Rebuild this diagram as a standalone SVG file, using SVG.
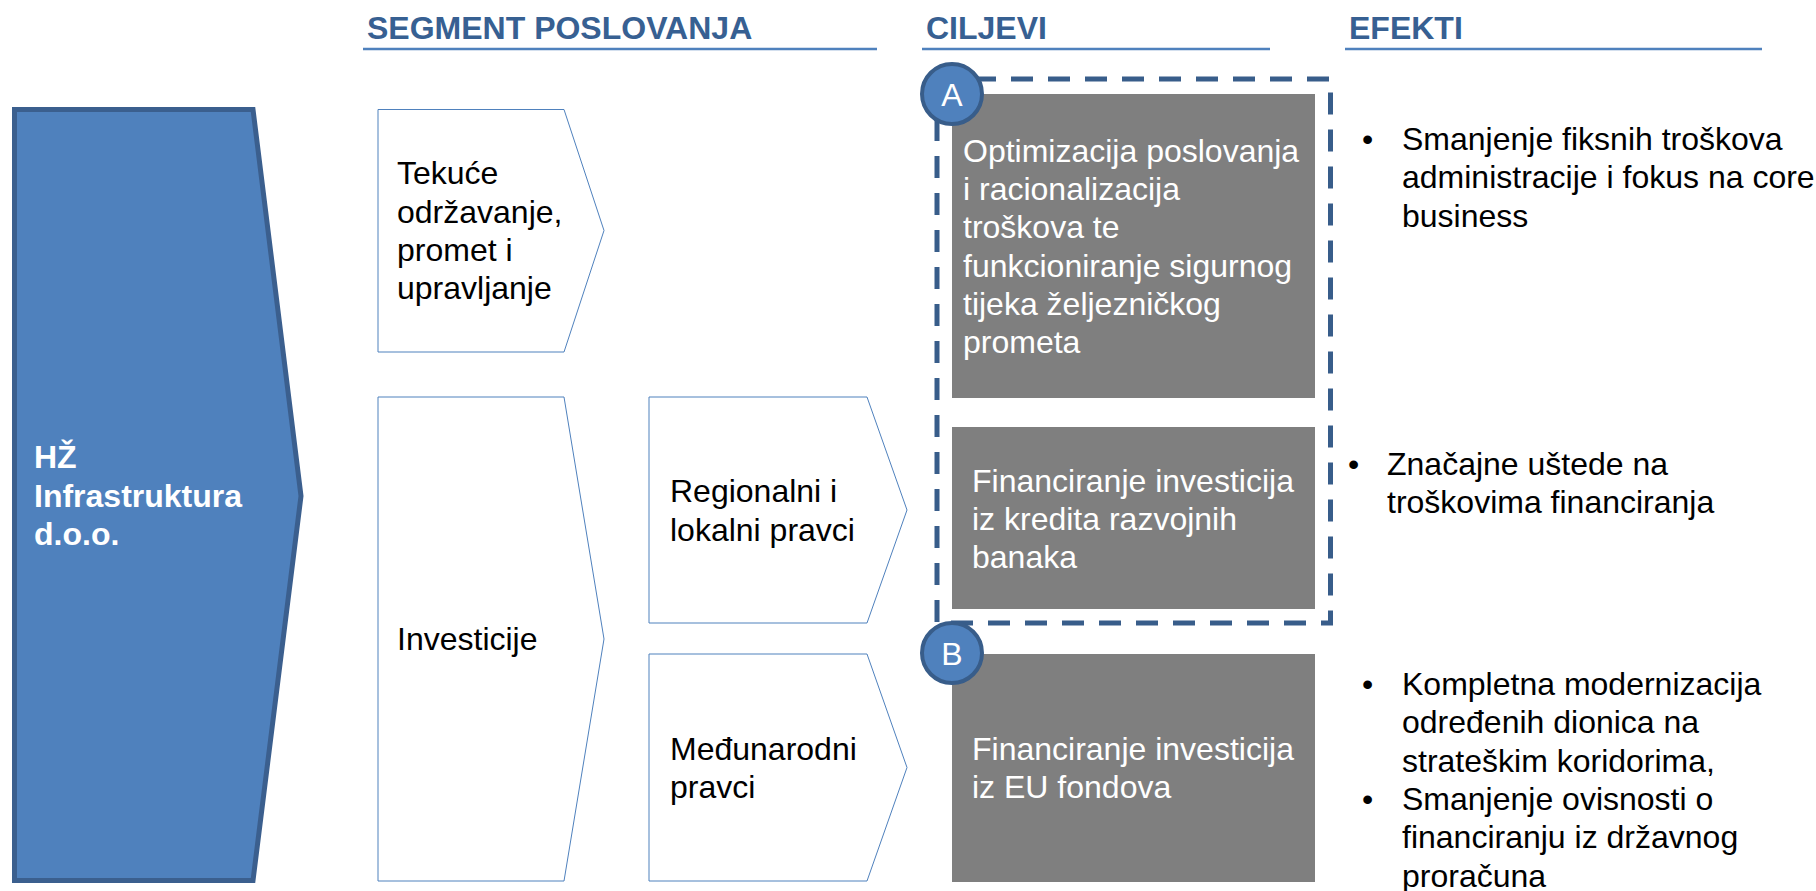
<svg xmlns="http://www.w3.org/2000/svg" width="1816" height="891" viewBox="0 0 1816 891">
<style>
text{font-family:"Liberation Sans",Arial,sans-serif;font-size:32px}
.hdr{font-weight:bold;fill:#376092}
.hl{stroke:#4f81bd;stroke-width:2.5;fill:none}
.seg{fill:#fff;stroke:#4f81bd;stroke-width:1}
.blk{fill:#000}
.gbox{fill:#7f7f7f}
.wt{fill:#fff}
.badge{fill:#4f81bd;stroke:#385d8a;stroke-width:4}
</style>
<rect width="1816" height="891" fill="#fff"/>
<g id="headers">
<text class="hdr" x="367" y="39">SEGMENT POSLOVANJA</text>
<line class="hl" x1="363" y1="49" x2="877" y2="49"/>
<text class="hdr" x="926" y="39">CILJEVI</text>
<line class="hl" x1="922" y1="49" x2="1270" y2="49"/>
<text class="hdr" x="1349" y="39">EFEKTI</text>
<line class="hl" x1="1345" y1="49" x2="1762" y2="49"/>
</g>
<g id="hz">
<polygon points="14.5,109.5 253,109.5 301,496 253,880.5 14.5,880.5" fill="#4f81bd" stroke="#3b5f8e" stroke-width="5"/>
<text class="wt" font-weight="bold" x="34"><tspan x="34" y="468">HŽ</tspan><tspan x="34" y="507">Infrastruktura</tspan><tspan x="34" y="545">d.o.o.</tspan></text>
</g>
<g id="seg-tekuce">
<polygon class="seg" points="378,109.5 564,109.5 604,230.5 564,352 378,352"/>
<text class="blk"><tspan x="397" y="184">Tekuće</tspan><tspan x="397" y="223">održavanje,</tspan><tspan x="397" y="261">promet i</tspan><tspan x="397" y="299">upravljanje</tspan></text>
</g>
<g id="seg-investicije">
<polygon class="seg" points="378,397 564,397 604,639 564,881 378,881"/>
<text class="blk" x="397" y="650">Investicije</text>
</g>
<g id="seg-regionalni">
<polygon class="seg" points="649,397 867,397 907,510 867,623 649,623"/>
<text class="blk"><tspan x="670" y="502">Regionalni i</tspan><tspan x="670" y="541">lokalni pravci</tspan></text>
</g>
<g id="seg-medunarodni">
<polygon class="seg" points="649,654 867,654 907,767.5 867,881 649,881"/>
<text class="blk"><tspan x="670" y="760">Međunarodni</tspan><tspan x="670" y="798">pravci</tspan></text>
</g>
<g id="cilj-optimizacija">
<rect class="gbox" x="952" y="94" width="363" height="304"/>
<text class="wt"><tspan x="963" y="162">Optimizacija poslovanja</tspan><tspan x="963" y="200">i racionalizacija</tspan><tspan x="963" y="238">troškova te</tspan><tspan x="963" y="277">funkcioniranje sigurnog</tspan><tspan x="963" y="315">tijeka željezničkog</tspan><tspan x="963" y="353">prometa</tspan></text>
</g>
<g id="cilj-krediti">
<rect class="gbox" x="952" y="427" width="363" height="182"/>
<text class="wt"><tspan x="972" y="492">Financiranje investicija</tspan><tspan x="972" y="530">iz kredita razvojnih</tspan><tspan x="972" y="568">banaka</tspan></text>
</g>
<g id="cilj-eu">
<rect class="gbox" x="952" y="654" width="363" height="228"/>
<text class="wt"><tspan x="972" y="760">Financiranje investicija</tspan><tspan x="972" y="798">iz EU fondova</tspan></text>
</g>
<g id="group-a-frame">
<rect x="937" y="79" width="393.5" height="544" fill="none" stroke="#385d8a" stroke-width="5" stroke-dasharray="22 15"/>
</g>
<g id="badge-a">
<circle class="badge" cx="952" cy="94" r="30"/>
<text class="wt" x="952" y="106" text-anchor="middle">A</text>
</g>
<g id="badge-b">
<circle class="badge" cx="952" cy="653" r="30"/>
<text class="wt" x="952" y="665" text-anchor="middle">B</text>
</g>
<g id="efekt-1">
<text class="blk"><tspan x="1362" y="150">•</tspan><tspan x="1402" y="150">Smanjenje fiksnih troškova</tspan><tspan x="1402" y="188">administracije i fokus na core</tspan><tspan x="1402" y="227">business</tspan></text>
</g>
<g id="efekt-2">
<text class="blk"><tspan x="1348" y="475">•</tspan><tspan x="1387" y="475">Značajne uštede na</tspan><tspan x="1387" y="513">troškovima financiranja</tspan></text>
</g>
<g id="efekt-3">
<text class="blk"><tspan x="1362" y="695">•</tspan><tspan x="1402" y="695">Kompletna modernizacija</tspan><tspan x="1402" y="733">određenih dionica na</tspan><tspan x="1402" y="772">strateškim koridorima,</tspan><tspan x="1362" y="810">•</tspan><tspan x="1402" y="810">Smanjenje ovisnosti o</tspan><tspan x="1402" y="848">financiranju iz državnog</tspan><tspan x="1402" y="887">proračuna</tspan></text>
</g>
</svg>
